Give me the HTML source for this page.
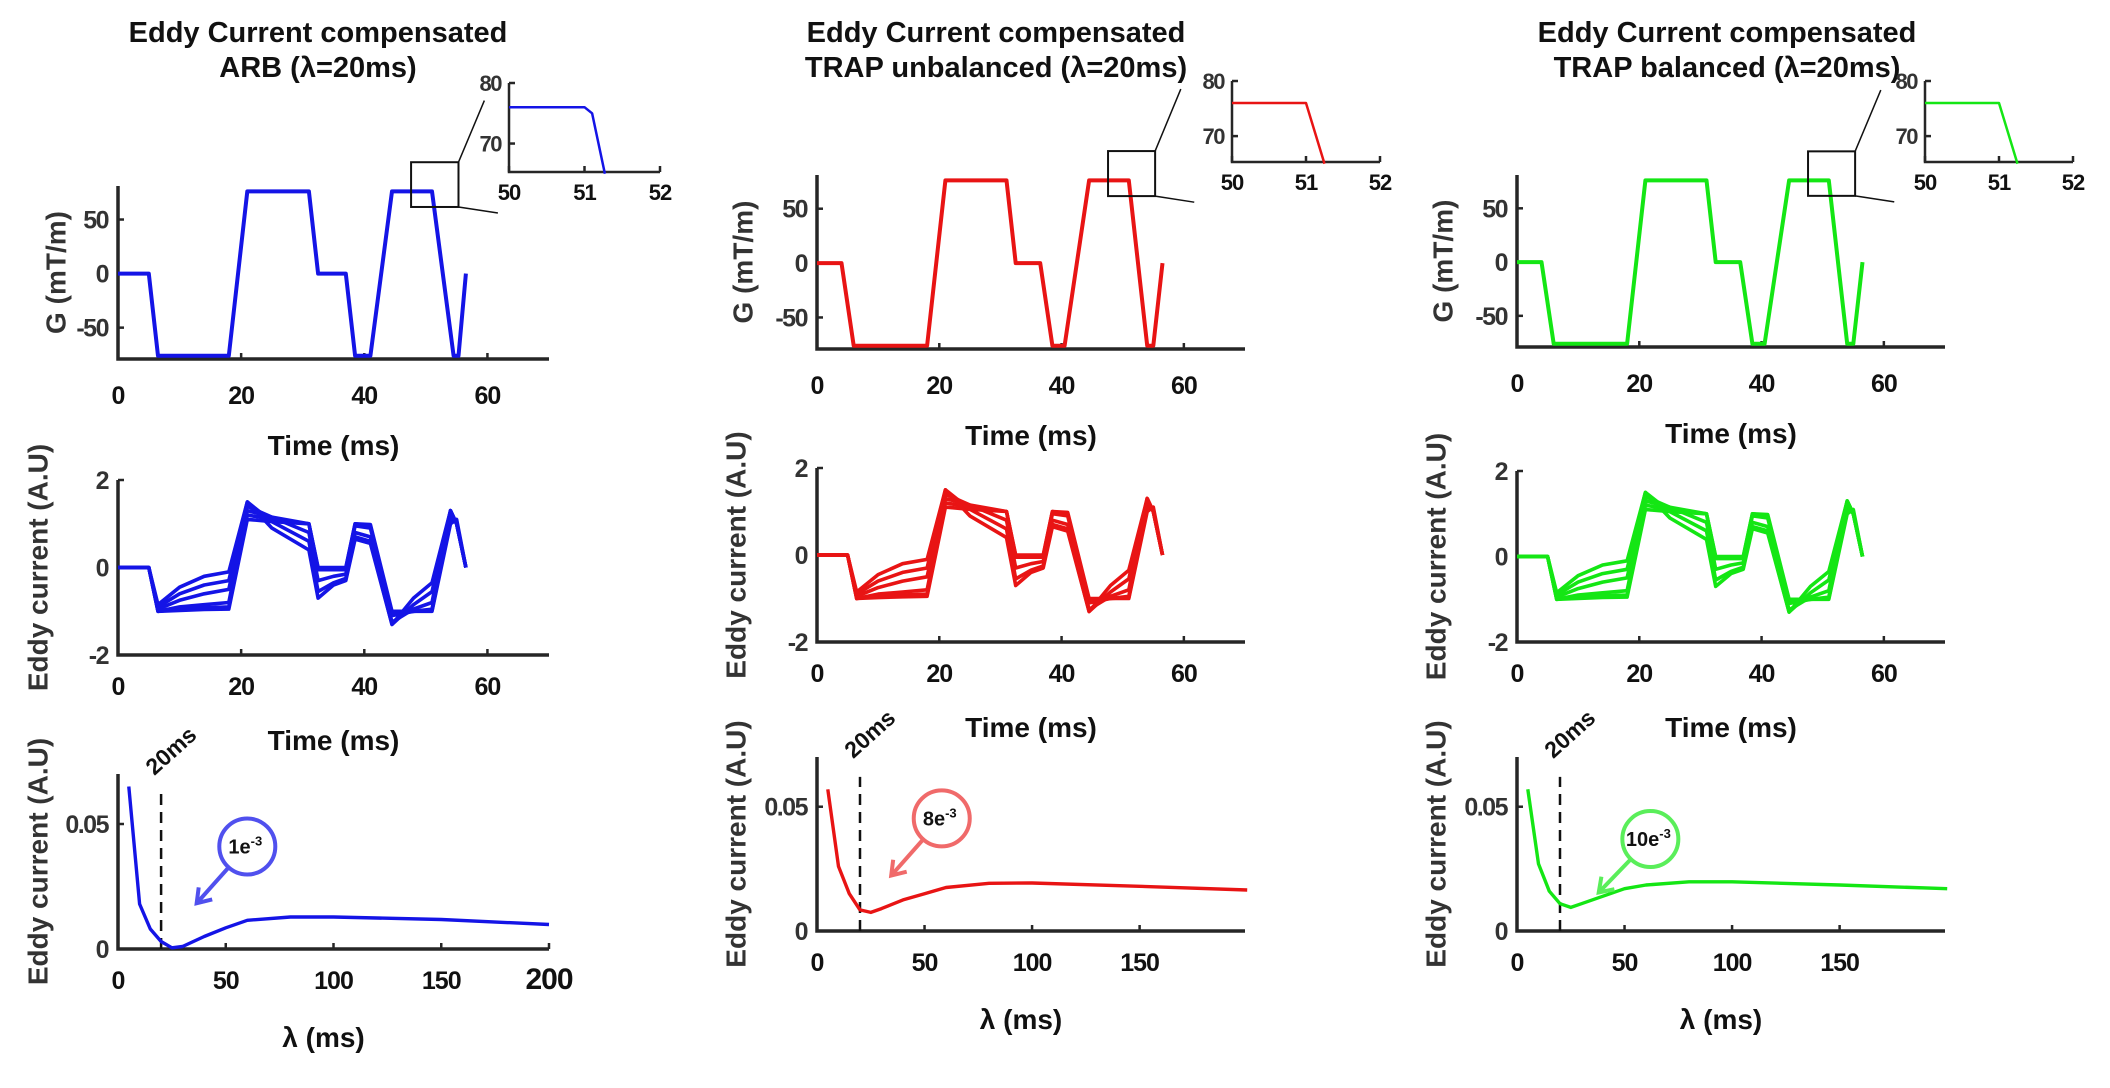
<!DOCTYPE html>
<html><head><meta charset="utf-8"><style>
html,body{margin:0;padding:0;background:#fff;}
svg{display:block;font-family:"Liberation Sans",Arial,sans-serif;font-weight:bold;}
</style></head><body>
<svg id="fig" width="2110" height="1088" viewBox="0 0 2110 1088" xmlns="http://www.w3.org/2000/svg"></svg>
<script>
// ---------- data ----------
const gTimesArb = [0,5,6.5,18,21,31,32.5,37,38.5,41,44.5,51,54.5,55.3,56.5];
const gValuesArb = [0,0,-76,-76,76,76,0,0,-76,-76,76,76,-76,-76,0];
const gTimesTrap = [0,4,6,18,21,31,32.5,36.5,38.5,40.5,44.5,51,54,55,56.5];
const gValuesTrap = [0,0,-76,-76,76,76,0,0,-76,-76,76,76,-76,-76,0];
const insetTimesArb = [50,51,51.1,51.27];
const insetValuesArb = [76,76,75,65];
const insetTimesTrap = [50,51,51.25];
const insetValuesTrap = [76,76,65];
const eddyTimes = [0,5,6.5,10,14,18,21,25,31,32.5,35,37,38.5,41,44.5,48,51,54,55,56.5];
const eddyCurve1 = [0,0,-1.0,-0.98,-0.96,-0.95,1.1,1.05,1.0,0,0,0,1.0,0.98,-1.0,-1.0,-1.0,1.0,1.1,0];
const eddyCurve2 = [0,0,-1.0,-0.95,-0.92,-0.9,1.2,1.1,1.0,-0.02,-0.02,-0.02,1.0,0.95,-1.05,-1.0,-0.98,1.1,1.05,0];
const eddyCurve3 = [0,0,-1.0,-0.9,-0.85,-0.8,1.3,1.15,1.0,-0.05,-0.05,-0.05,0.95,0.9,-1.1,-1.0,-0.95,1.2,1.0,0];
const eddyCurve4 = [0,0,-0.95,-0.75,-0.6,-0.5,1.4,1.15,0.8,-0.3,-0.2,-0.15,0.8,0.7,-1.25,-0.95,-0.8,1.3,1.0,0];
const eddyCurve5 = [0,0,-0.9,-0.6,-0.4,-0.3,1.5,1.05,0.6,-0.55,-0.35,-0.25,0.7,0.6,-1.3,-0.85,-0.55,1.3,1.0,0];
const eddyCurve6 = [0,0,-0.85,-0.45,-0.2,-0.1,1.5,0.9,0.4,-0.7,-0.4,-0.3,0.65,0.55,-1.3,-0.7,-0.35,1.3,1.0,0];
const eddyCurves = [eddyCurve1,eddyCurve2,eddyCurve3,eddyCurve4,eddyCurve5,eddyCurve6];
const lambdaValues = [5,10,15,20,25,30,40,50,60,80,100,150,200];
const arbEddy = [0.065,0.018,0.008,0.003,0.0005,0.001,0.005,0.0085,0.0115,0.0128,0.0128,0.0118,0.0098];
const trapUnbEddy = [0.057,0.026,0.015,0.0085,0.0075,0.009,0.0125,0.015,0.0175,0.0192,0.0193,0.018,0.0165];
const trapBalEddy = [0.057,0.027,0.016,0.011,0.0095,0.011,0.014,0.017,0.0185,0.0198,0.0198,0.0185,0.017];
const gTicks = [-50,0,50];
const timeTicks = [0,20,40,60];
const eddyTicks = [-2,0,2];
const lambdaTicks = [0,50,100,150,200];
const lambdaTicksTrap = [0,50,100,150];
const smallTicks = [0,0.05];
const smallTickLabels = ["0","0.05"];
const insetXTicks = [50,51,52];
const insetYTicks = [70,80];
const minLabels = ["1e","8e","10e"];

// ---------- helpers ----------
const NS = "http://www.w3.org/2000/svg";
const svg = document.getElementById("fig");
function mk(tag, attrs, parent){
  const e = document.createElementNS(NS, tag);
  for (const k in attrs) e.setAttribute(k, attrs[k]);
  (parent||svg).appendChild(e);
  return e;
}
function scale(d0,d1,r0,r1){ return v => r0 + (v-d0)/(d1-d0)*(r1-r0); }
const AX = "#262626";

function axes(box, xd, yd, xt, yt, opts){
  const g = mk("g", {});
  
  
  const X = scale(xd[0],xd[1],box.l,box.r), Y = scale(yd[0],yd[1],box.b,box.t);
  const fs = opts.fs||25;
  const ax = mk("path", {d:`M${box.l},${box.t} L${box.l},${box.b} L${box.r},${box.b}`, fill:"none", stroke:AX, "stroke-width":opts.sw||3.5}, g);
  
  
  xt.forEach((v,i)=>{
    const x = X(v);
    const tk = mk("line",{x1:x,x2:x,y1:box.b,y2:box.b-6,stroke:AX,"stroke-width":2.5},g);
    
    
    const t = mk("text",{x:x,y:box.b+(opts.xlo||42),"text-anchor":"middle","font-size":(opts.bigLast&&i===xt.length-1)?fs+5:fs,fill:"#111","letter-spacing":"-1"},g);
    t.textContent = v;
    
    
  });
  yt.forEach((v,i)=>{
    const y = Y(v);
    const tk = mk("line",{x1:box.l,x2:box.l+6,y1:y,y2:y,stroke:AX,"stroke-width":2.5},g);
    
    
    const t = mk("text",{x:box.l-(opts.ylo||10),y:y+fs*0.36,"text-anchor":"end","font-size":fs,fill:"#333","letter-spacing":"-1.5"},g);
    t.textContent = opts.ylabels? opts.ylabels[i] : v;
    
    
  });
  if (opts.xlabel){
    const t = mk("text",{x:(box.l+box.r)/2+(opts.xlx||0),y:box.b+(opts.xly||95),"text-anchor":"middle","font-size":28,fill:"#111"},g);
    t.textContent = opts.xlabel;
    
    
  }
  if (opts.ylabel){
    const cx = opts.ylx, cy = (box.t+box.b)/2;
    const t = mk("text",{x:cx,y:cy,"text-anchor":"middle","font-size":28,fill:"#333",transform:`rotate(-90 ${cx} ${cy})`,"dominant-baseline":"middle"},g);
    t.textContent = opts.ylabel;
    
    
  }
  return {X,Y,g};
}
function line(sc, xs, ys, color, w, name, extra){
  const d = xs.map((x,i)=>(i?"L":"M")+sc.X(x).toFixed(1)+","+sc.Y(ys[i]).toFixed(1)).join(" ");
  const p = mk("path",Object.assign({d:d,fill:"none",stroke:color,"stroke-width":w,"stroke-linejoin":"round"},extra||{}),sc.g);
  
  
  return p;
}

// ---------- columns ----------
const cols = [
  {cx:318, sub:"ARB (λ=20ms)", color:"#1414e6", light:"#5050ee", gT:gTimesArb, gV:gValuesArb, iT:insetTimesArb, iV:insetValuesArb, lam:arbEddy,
   top:{l:118,r:549,t:186,b:359}, mid:{l:118,r:549,t:480,b:655}, bot:{l:118,r:549,t:774,b:949}, inset:{l:509,r:660,t:83,b:172},
   ylx:58, eylx:40, lx:[0,200], lt:lambdaTicks, big:true, circ:[60,0.041], arr:[36.5,0.0183], lab:0, name:"arb"},
  {cx:996, sub:"TRAP unbalanced (λ=20ms)", color:"#e81414", light:"#f06a6a", gT:gTimesTrap, gV:gValuesTrap, iT:insetTimesTrap, iV:insetValuesTrap, lam:trapUnbEddy,
   top:{l:817,r:1245,t:175,b:349}, mid:{l:817,r:1245,t:468,b:642}, bot:{l:817,r:1245,t:757,b:931}, inset:{l:1232,r:1380,t:81,b:162},
   ylx:745, eylx:738, lx:[0,199], lt:lambdaTicksTrap, big:false, circ:[58,0.0453], arr:[34.5,0.0223], lab:1, name:"trap-unbalanced"},
  {cx:1727, sub:"TRAP balanced (λ=20ms)", color:"#14e614", light:"#5aee5a", gT:gTimesTrap, gV:gValuesTrap, iT:insetTimesTrap, iV:insetValuesTrap, lam:trapBalEddy,
   top:{l:1517,r:1945,t:175,b:347}, mid:{l:1517,r:1945,t:471,b:642}, bot:{l:1517,r:1945,t:757,b:931}, inset:{l:1925,r:2073,t:81,b:162},
   ylx:1445, eylx:1438, lx:[0,199], lt:lambdaTicksTrap, big:false, circ:[62,0.037], arr:[38,0.0155], lab:2, name:"trap-balanced"}
];

cols.forEach(c=>{
  const t1 = mk("text",{x:c.cx,y:42,"text-anchor":"middle","font-size":29,fill:"#111"});
  t1.textContent = "Eddy Current compensated";
  
  
  const t2 = mk("text",{x:c.cx,y:77,"text-anchor":"middle","font-size":29,fill:"#111"});
  t2.textContent = c.sub;
  
  

  const top = axes(c.top,[0,70],[-79,81],timeTicks,gTicks,{name:c.name+"-gradient-plot",xlabel:"Time (ms)",ylabel:"G (mT/m)",ylx:c.ylx,xlo:45,xly:96});
  line(top,c.gT,c.gV,c.color,4,"gradient-waveform");
  const zb = mk("rect",{x:top.X(47.6),y:top.Y(103),width:top.X(55.3)-top.X(47.6),height:top.Y(61.6)-top.Y(103),fill:"none",stroke:"#111","stroke-width":2},top.g);
  
  
  const l1 = mk("line",{x1:top.X(55.3),y1:top.Y(103),x2:top.X(59.5),y2:top.Y(160),stroke:"#111","stroke-width":1.5},top.g);
  
  
  const l2 = mk("line",{x1:top.X(55.3),y1:top.Y(61.6),x2:top.X(61.7),y2:top.Y(56),stroke:"#111","stroke-width":1.5},top.g);
  
  

  const ins = axes(c.inset,[50,52],[65.3,80],insetXTicks,insetYTicks,{name:c.name+"-inset",fs:22,xlo:28,ylo:8,sw:2.5});
  line(ins,c.iT,c.iV,c.color,2.5,"inset-waveform");

  const mid = axes(c.mid,[0,70],[-2,2],timeTicks,eddyTicks,{name:c.name+"-eddy-time-plot",xlabel:"Time (ms)",ylabel:"Eddy current (A.U)",ylx:c.eylx,xlo:40,xly:95});
  eddyCurves.forEach(ec=>line(mid,eddyTimes,ec,c.color,3.6,"eddy-current-curve"));

  const bot = axes(c.bot,c.lx,[0,0.07],c.lt,smallTicks,{name:c.name+"-eddy-lambda-plot",xlabel:"λ (ms)",ylabel:"Eddy current (A.U)",ylx:c.eylx,ylabels:smallTickLabels,xlo:40,xly:98,bigLast:c.big,xlx:-10});
  line(bot,[20,20],[0,0.062],"#111",2.5,"lambda-20ms-marker",{"stroke-dasharray":"11,7"});
  const lx = bot.X(27), ly = bot.Y(0.077);
  const lt = mk("text",{x:lx,y:ly,"text-anchor":"middle","font-size":23,fill:"#111",transform:`rotate(-42 ${lx} ${ly})`},bot.g);
  lt.textContent = "20ms";
  
  
  line(bot,lambdaValues,c.lam,c.color,3.4,"eddy-vs-lambda-curve");
  const ccx = bot.X(c.circ[0]), ccy = bot.Y(c.circ[1]), r = 28;
  const ax2 = bot.X(c.arr[0]), ay2 = bot.Y(c.arr[1]);
  const dx = ax2-ccx, dy = ay2-ccy, L = Math.hypot(dx,dy), ux = dx/L, uy = dy/L;
  const sx = ccx+ux*r, sy = ccy+uy*r;
  const ar = mk("line",{x1:sx,y1:sy,x2:ax2,y2:ay2,stroke:c.light,"stroke-width":4},bot.g);
  
  
  const hx = -ux, hy = -uy, hl = 16;
  const rot = (a)=>[hx*Math.cos(a)-hy*Math.sin(a), hx*Math.sin(a)+hy*Math.cos(a)];
  const a1 = rot(0.6), a2 = rot(-0.6);
  const head = mk("path",{d:`M${ax2+a1[0]*hl},${ay2+a1[1]*hl} L${ax2},${ay2} L${ax2+a2[0]*hl},${ay2+a2[1]*hl}`,fill:"none",stroke:c.light,"stroke-width":4},bot.g);
  
  
  const ci = mk("circle",{cx:ccx,cy:ccy,r:r,fill:"#fff",stroke:c.light,"stroke-width":4},bot.g);
  
  
  const at = mk("text",{x:ccx-2,y:ccy+7,"text-anchor":"middle","font-size":20,fill:"#111"},bot.g);
  
  
  at.textContent = minLabels[c.lab];
  const sup = mk("tspan",{dy:-8,"font-size":13},at);
  sup.textContent = "-3";
});
</script>
</body></html>
